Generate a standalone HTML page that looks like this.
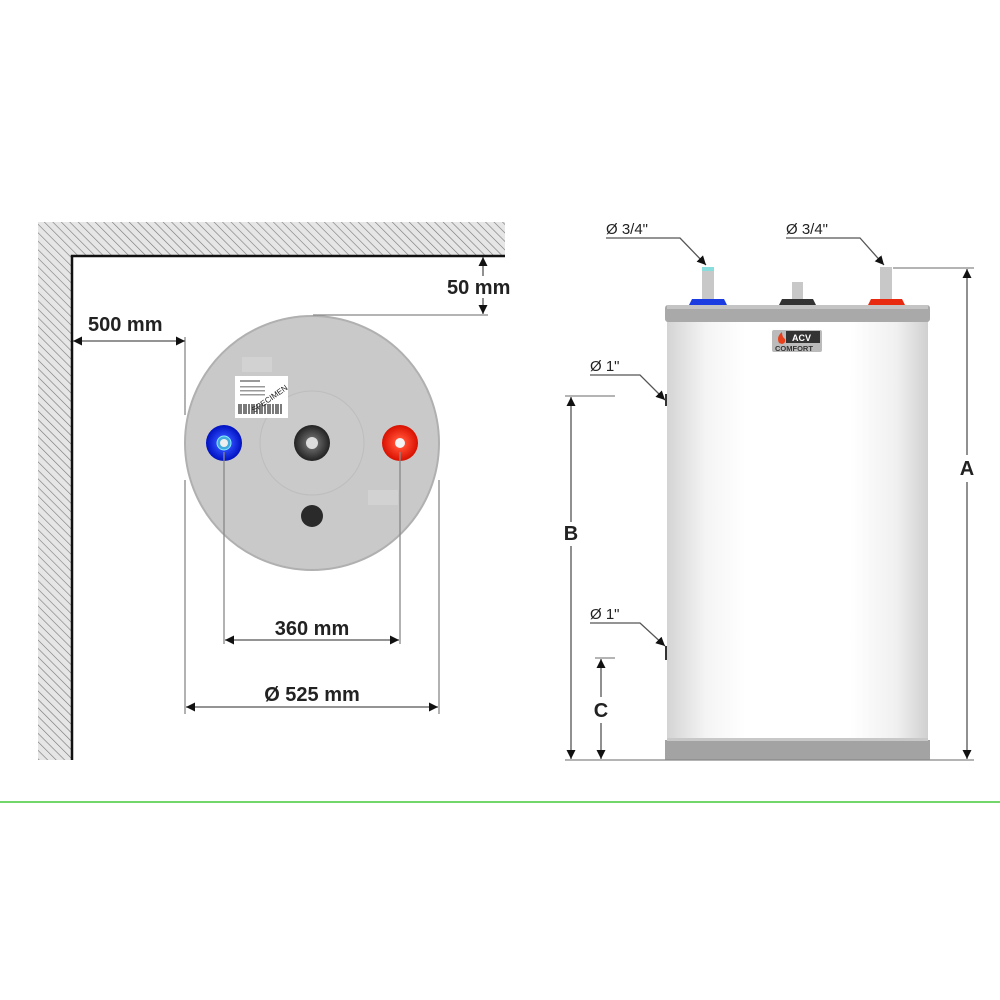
<!DOCTYPE html>
<html><head><meta charset="utf-8"><style>
html,body{margin:0;padding:0;background:#fff;}
svg{display:block;}
text{font-family:"Liberation Sans",sans-serif;}
</style></head><body>
<svg width="1000" height="1000" viewBox="0 0 1000 1000" xmlns="http://www.w3.org/2000/svg">
<defs>
<pattern id="hatch" patternUnits="userSpaceOnUse" width="6" height="6" patternTransform="rotate(-45)">
<rect width="6" height="6" fill="#e6e6e6"/>
<line x1="0" y1="0" x2="0" y2="6" stroke="#777" stroke-width="1.2"/>
</pattern>
<marker id="ar" viewBox="0 0 10 10" refX="10" refY="5" markerWidth="9" markerHeight="9" orient="auto-start-reverse" markerUnits="userSpaceOnUse">
<path d="M0,0 L10,5 L0,10 z" fill="#111"/>
</marker>
<linearGradient id="body" x1="0" x2="1" y1="0" y2="0">
<stop offset="0" stop-color="#d4d4d4"/><stop offset="0.15" stop-color="#f4f4f4"/><stop offset="0.3" stop-color="#fff"/>
<stop offset="0.7" stop-color="#fff"/><stop offset="0.88" stop-color="#f0f0f0"/><stop offset="1" stop-color="#d0d0d0"/>
</linearGradient>
<radialGradient id="blue"><stop offset="0.3" stop-color="#3050ff"/><stop offset="1" stop-color="#0010c0"/></radialGradient>
<radialGradient id="red"><stop offset="0.3" stop-color="#ff4a30"/><stop offset="1" stop-color="#d81000"/></radialGradient>
<radialGradient id="blk"><stop offset="0.3" stop-color="#666"/><stop offset="1" stop-color="#222"/></radialGradient>
</defs>

<!-- wall -->
<path d="M38,222 H505 V255 H72 V760 H38 Z" fill="url(#hatch)"/>
<path d="M505,256 H72 V760" fill="none" stroke="#111" stroke-width="2.5"/>

<!-- top circle -->
<circle cx="312" cy="443" r="127" fill="#c9c9c9" stroke="#b0b0b0" stroke-width="2"/>
<circle cx="312" cy="443" r="52" fill="#cacaca" stroke="#bdbdbd" stroke-width="1"/>
<rect x="242" y="357" width="30" height="15" fill="#d2d2d2"/>
<rect x="368" y="490" width="30" height="15" fill="#d2d2d2"/>
<rect x="235" y="376" width="53" height="42" fill="#fff"/>
<g fill="#999"><rect x="240" y="380" width="20" height="2"/><rect x="240" y="386" width="25" height="1.5"/><rect x="240" y="390" width="25" height="1.5"/><rect x="240" y="394" width="25" height="1.5"/></g>
<g stroke="#222" stroke-width="1.2"><path d="M239,404v10M241,404v10M244,404v10M246,404v10M249,404v10M252,404v10M254,404v10M257,404v10M260,404v10M262,404v10M265,404v10M268,404v10M270,404v10M273,404v10M276,404v10M278,404v10M281,404v10"/></g>
<text x="248" y="406" font-size="8" fill="#222" transform="rotate(-35 262 400)">SPECIMEN</text>
<circle cx="224" cy="443" r="18" fill="url(#blue)"/><circle cx="224" cy="443" r="7" fill="#4ad" stroke="#8ef"/><circle cx="224" cy="443" r="4" fill="#eee"/>
<circle cx="312" cy="443" r="18" fill="url(#blk)"/><circle cx="312" cy="443" r="6" fill="#ddd"/>
<circle cx="400" cy="443" r="18" fill="url(#red)"/><circle cx="400" cy="443" r="5" fill="#f4f4f4"/>
<circle cx="312" cy="516" r="11" fill="#2a2a2a"/>

<!-- dims left -->
<g stroke="#888" stroke-width="1.3" fill="none">
<line x1="313" y1="315" x2="488" y2="315"/>
<line x1="185" y1="337" x2="185" y2="415"/>
<line x1="185" y1="480" x2="185" y2="714"/>
<line x1="439" y1="480" x2="439" y2="714"/>
<line x1="224" y1="452" x2="224" y2="644"/>
<line x1="400" y1="452" x2="400" y2="644"/>
</g>
<g stroke="#555" stroke-width="1.3">
<line x1="483" y1="257" x2="483" y2="276" marker-start="url(#ar)"/>
<line x1="483" y1="298" x2="483" y2="314" marker-end="url(#ar)"/>
<line x1="73" y1="341" x2="185" y2="341" marker-start="url(#ar)" marker-end="url(#ar)"/>
<line x1="225" y1="640" x2="399" y2="640" marker-start="url(#ar)" marker-end="url(#ar)"/>
<line x1="186" y1="707" x2="438" y2="707" marker-start="url(#ar)" marker-end="url(#ar)"/>
</g>
<g font-size="20" font-weight="bold" fill="#222">
<text x="447" y="294">50 mm</text>
<text x="88" y="331">500 mm</text>
<text x="312" y="635" text-anchor="middle">360 mm</text>
<text x="312" y="701" text-anchor="middle">Ø 525 mm</text>
</g>

<!-- tank side -->
<rect x="667" y="320" width="261" height="422" fill="url(#body)"/>
<rect x="665" y="305" width="265" height="17" rx="3" fill="#a9a9a9"/>
<rect x="667" y="305" width="261" height="4" fill="#c4c4c4"/>
<rect x="665" y="740" width="265" height="20" fill="#a3a3a3"/>
<rect x="667" y="738" width="261" height="3" fill="#c8c8c8"/>
<!-- pipes -->
<rect x="702" y="267" width="12" height="33" fill="#c8c8c8"/><rect x="702" y="267" width="12" height="4" fill="#8dd"/>
<path d="M689,305 L692,299 L724,299 L727,305Z" fill="#1a3ce0"/>
<rect x="792" y="282" width="11" height="17" fill="#c8c8c8"/>
<path d="M779,305 L782,299 L813,299 L816,305Z" fill="#333"/>
<rect x="880" y="267" width="12" height="33" fill="#c8c8c8"/>
<path d="M868,305 L871,299 L902,299 L905,305Z" fill="#e82a10"/>
<!-- logo -->
<rect x="772" y="330" width="50" height="22" rx="2" fill="#bbb"/>
<rect x="786" y="331" width="34" height="12" fill="#333"/>
<text x="792" y="341" font-size="9" font-weight="bold" fill="#fff">ACV</text>
<text x="775" y="351" font-size="7.5" font-weight="bold" fill="#333">COMFORT</text>
<path d="M779,343 q-3,-6 3,-11 q0,5 3,7 q1,4 -3,5z" fill="#e8401a"/>
<!-- side ports -->
<rect x="665" y="394" width="2" height="12" fill="#333"/>
<rect x="665" y="646" width="2" height="14" fill="#333"/>

<!-- right dims -->
<g stroke="#888" stroke-width="1.3" fill="none">
<line x1="893" y1="268" x2="974" y2="268"/>
<line x1="565" y1="760" x2="974" y2="760"/>
<line x1="565" y1="396" x2="615" y2="396"/>
<line x1="595" y1="658" x2="615" y2="658"/>
</g>
<g stroke="#555" stroke-width="1.3">
<line x1="967" y1="269" x2="967" y2="455" marker-start="url(#ar)"/>
<line x1="967" y1="482" x2="967" y2="759" marker-end="url(#ar)"/>
<line x1="571" y1="397" x2="571" y2="522" marker-start="url(#ar)"/>
<line x1="571" y1="546" x2="571" y2="759" marker-end="url(#ar)"/>
<line x1="601" y1="659" x2="601" y2="697" marker-start="url(#ar)"/>
<line x1="601" y1="723" x2="601" y2="759" marker-end="url(#ar)"/>
<!-- leaders -->
<polyline points="606,238 680,238 706,265" fill="none" marker-end="url(#ar)"/>
<polyline points="786,238 860,238 884,265" fill="none" marker-end="url(#ar)"/>
<polyline points="590,375 640,375 665,400" fill="none" marker-end="url(#ar)"/>
<polyline points="590,623 640,623 665,646" fill="none" marker-end="url(#ar)"/>
</g>
<g font-size="20" font-weight="bold" fill="#222" text-anchor="middle">
<text x="967" y="475">A</text>
<text x="571" y="540">B</text>
<text x="601" y="717">C</text>
</g>
<g font-size="15" fill="#222">
<text x="606" y="234">Ø 3/4"</text>
<text x="786" y="234">Ø 3/4"</text>
<text x="590" y="371">Ø 1"</text>
<text x="590" y="619">Ø 1"</text>
</g>

<line x1="0" y1="802" x2="1000" y2="802" stroke="#44c83a" stroke-width="1.5"/>
</svg>
</body></html>
